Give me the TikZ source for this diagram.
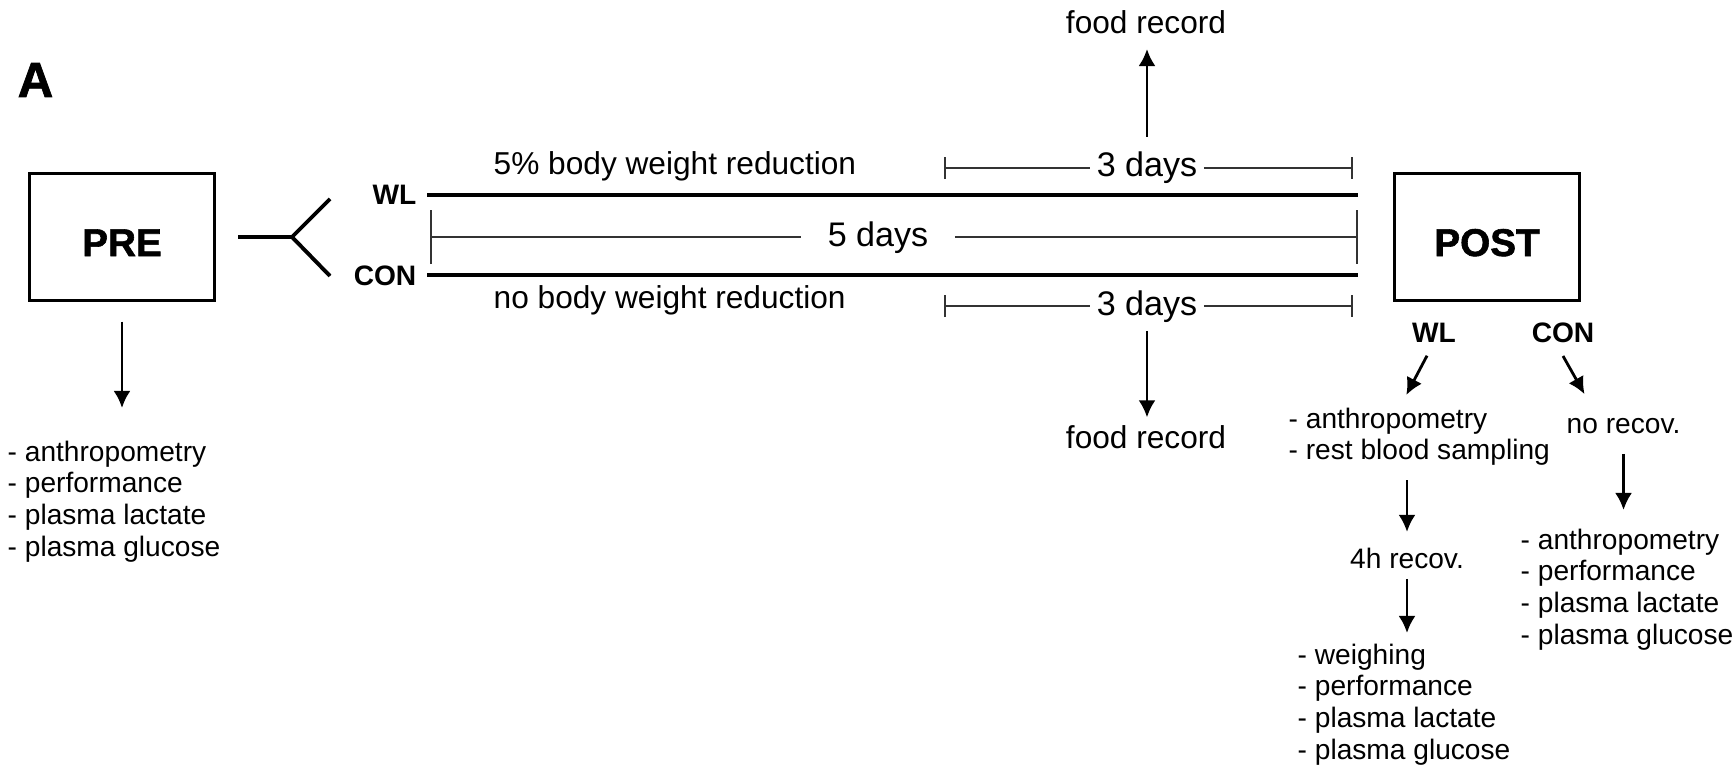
\documentclass[tikz,border=0pt]{standalone}
\usepackage{fontspec}
\setmainfont{Liberation Sans}
\newfontfamily\heavyfont{Liberation Sans Bold}[FakeBold=1.5]
\usetikzlibrary{arrows.meta,calc}
\begin{document}
\begin{tikzpicture}[x=0.01cm,y=-0.01cm]

    \tikzset{boxstyle/.style={draw,line width=0.85pt,minimum width=1.85cm,minimum height=1.26cm,inner sep=0pt,
        font=\fontsize{11}{13}\selectfont\heavyfont,text height=0.38cm,text depth=0pt},
      txt/.style={inner sep=0pt,font=\fontsize{9}{11}\selectfont},
      days/.style={inner ysep=0pt,font=\fontsize{9.7}{11}\selectfont},
      grp/.style={inner sep=0pt,font=\fontsize{8}{9}\selectfont\bfseries},
      lst/.style={inner sep=0pt,align=left,font=\fontsize{8}{9}\selectfont},
      arr/.style={line width=0.8pt,-{Latex[length=0.17cm,width=0.17cm]}},
      track/.style={line width=1.2pt},
      span/.style={line width=0.45pt,black!80}}
    \useasboundingbox (0,0) rectangle (1736,767);

    \node[anchor=base west,inner sep=0pt,font=\fontsize{14}{16}\selectfont\heavyfont] (lab) at (17,97) {A};

    \node[boxstyle] (pre) at (122,237) {PRE};
    \node[boxstyle] (post) at (1487,237) {POST};

    \node[grp,anchor=base east] (wl) at (417,205) {WL};
    \node[grp,anchor=base east] (con) at (417,285) {CON};

    \coordinate (fk) at (292,237);
    \coordinate (fkw) at (330,199);
    \coordinate (fkc) at (330,276);
    \coordinate (tend) at (1358,0);
    \coordinate (dl) at (944,0);
    \coordinate (dr) at (1353,0);
    \coordinate (fl) at (430,0);

    \draw[line width=1.1pt] ($(pre.east)+(22,0)$) -- (fk) -- (fkw);
    \draw[line width=1.1pt] (fk) -- (fkc);

    \draw[track] ($(wl.east)+(10,0)$) -- (wl.east -| tend);
    \draw[track] ($(con.east)+(10,0)$) -- (con.east -| tend);

    \node[txt,anchor=base west] (wltxt) at (493,175) {5\% body weight reduction};
    \node[txt,anchor=base west] (contxt) at (493,308) {no body weight reduction};

    \node[days,inner xsep=0.26cm,anchor=base] (five) at (878,246) {5 days};
    \node[days,inner xsep=0.06cm,anchor=base] (daysa) at (1147,177) {3 days};
    \node[days,inner xsep=0.06cm,anchor=base] (daysb) at (1147,315) {3 days};

    \draw[span,{Bar[width=0.54cm]}-] (five.west -| fl) -- (five.west);
    \draw[span,-{Bar[width=0.54cm]}] (five.east) -- (five.east -| tend);
    \draw[span,{Bar[width=0.22cm]}-] (daysa.west -| dl) -- (daysa.west);
    \draw[span,-{Bar[width=0.22cm]}] (daysa.east) -- (daysa.east -| dr);
    \draw[span,{Bar[width=0.22cm]}-] (daysb.west -| dl) -- (daysb.west);
    \draw[span,-{Bar[width=0.22cm]}] (daysb.east) -- (daysb.east -| dr);

    \node[txt,anchor=base] (foodtop) at (1146,34) {food record};
    \node[txt,anchor=base] (foodbot) at (1146,448) {food record};

    \node[lst,anchor=north west] (prelist) at (7,440) {- anthropometry\\- performance\\- plasma lactate\\- plasma glucose};

    \node[grp,anchor=base] (postwl) at (1434,342) {WL};
    \node[grp,anchor=base] (postcon) at (1563,342) {CON};
    \node[lst,anchor=north west] (wllist) at (1288,407) {- anthropometry\\- rest blood sampling};
    \node[lst,anchor=base west] (norecov) at (1566,433) {no recov.};
    \node[lst,anchor=base] (recov) at (1407,568) {4h recov.};
    \node[lst,anchor=north west] (wlfinal) at (1297,643) {- weighing\\- performance\\- plasma lactate\\- plasma glucose};
    \node[lst,anchor=north west] (conlist) at (1520,528) {- anthropometry\\- performance\\- plasma lactate\\- plasma glucose};

    \begin{scope}[every path/.style={arr}]
        \draw[shorten <=0.15cm,shorten >=0.14cm] (daysa.north) -- (daysa.north |- foodtop.south);
        \draw[shorten <=0.08cm,shorten >=0.07cm] (daysb.south) -- (daysb.south |- foodbot.north);
        \draw[shorten <=0.2cm,shorten >=0.32cm] (pre.south) -- (pre.south |- prelist.north);
        \draw ([shift={(-7,13)}]postwl.south) -- ([shift={(-13,-12)}]wllist.north);
        \draw ([shift={(0,13)}]postcon.south) -- ([shift={(-39,-23)}]norecov.north);
        \draw[shorten <=0.14cm,shorten >=0.15cm] (wllist.south -| recov.north) -- (recov.north);
        \draw[shorten <=0.1cm,shorten >=0.1cm] (recov.south) -- (recov.south |- wlfinal.north);
        \draw[shorten <=0.2cm,shorten >=0.18cm] (norecov.south) -- (norecov.south |- conlist.north);
    \end{scope}
\end{tikzpicture}
\end{document}
